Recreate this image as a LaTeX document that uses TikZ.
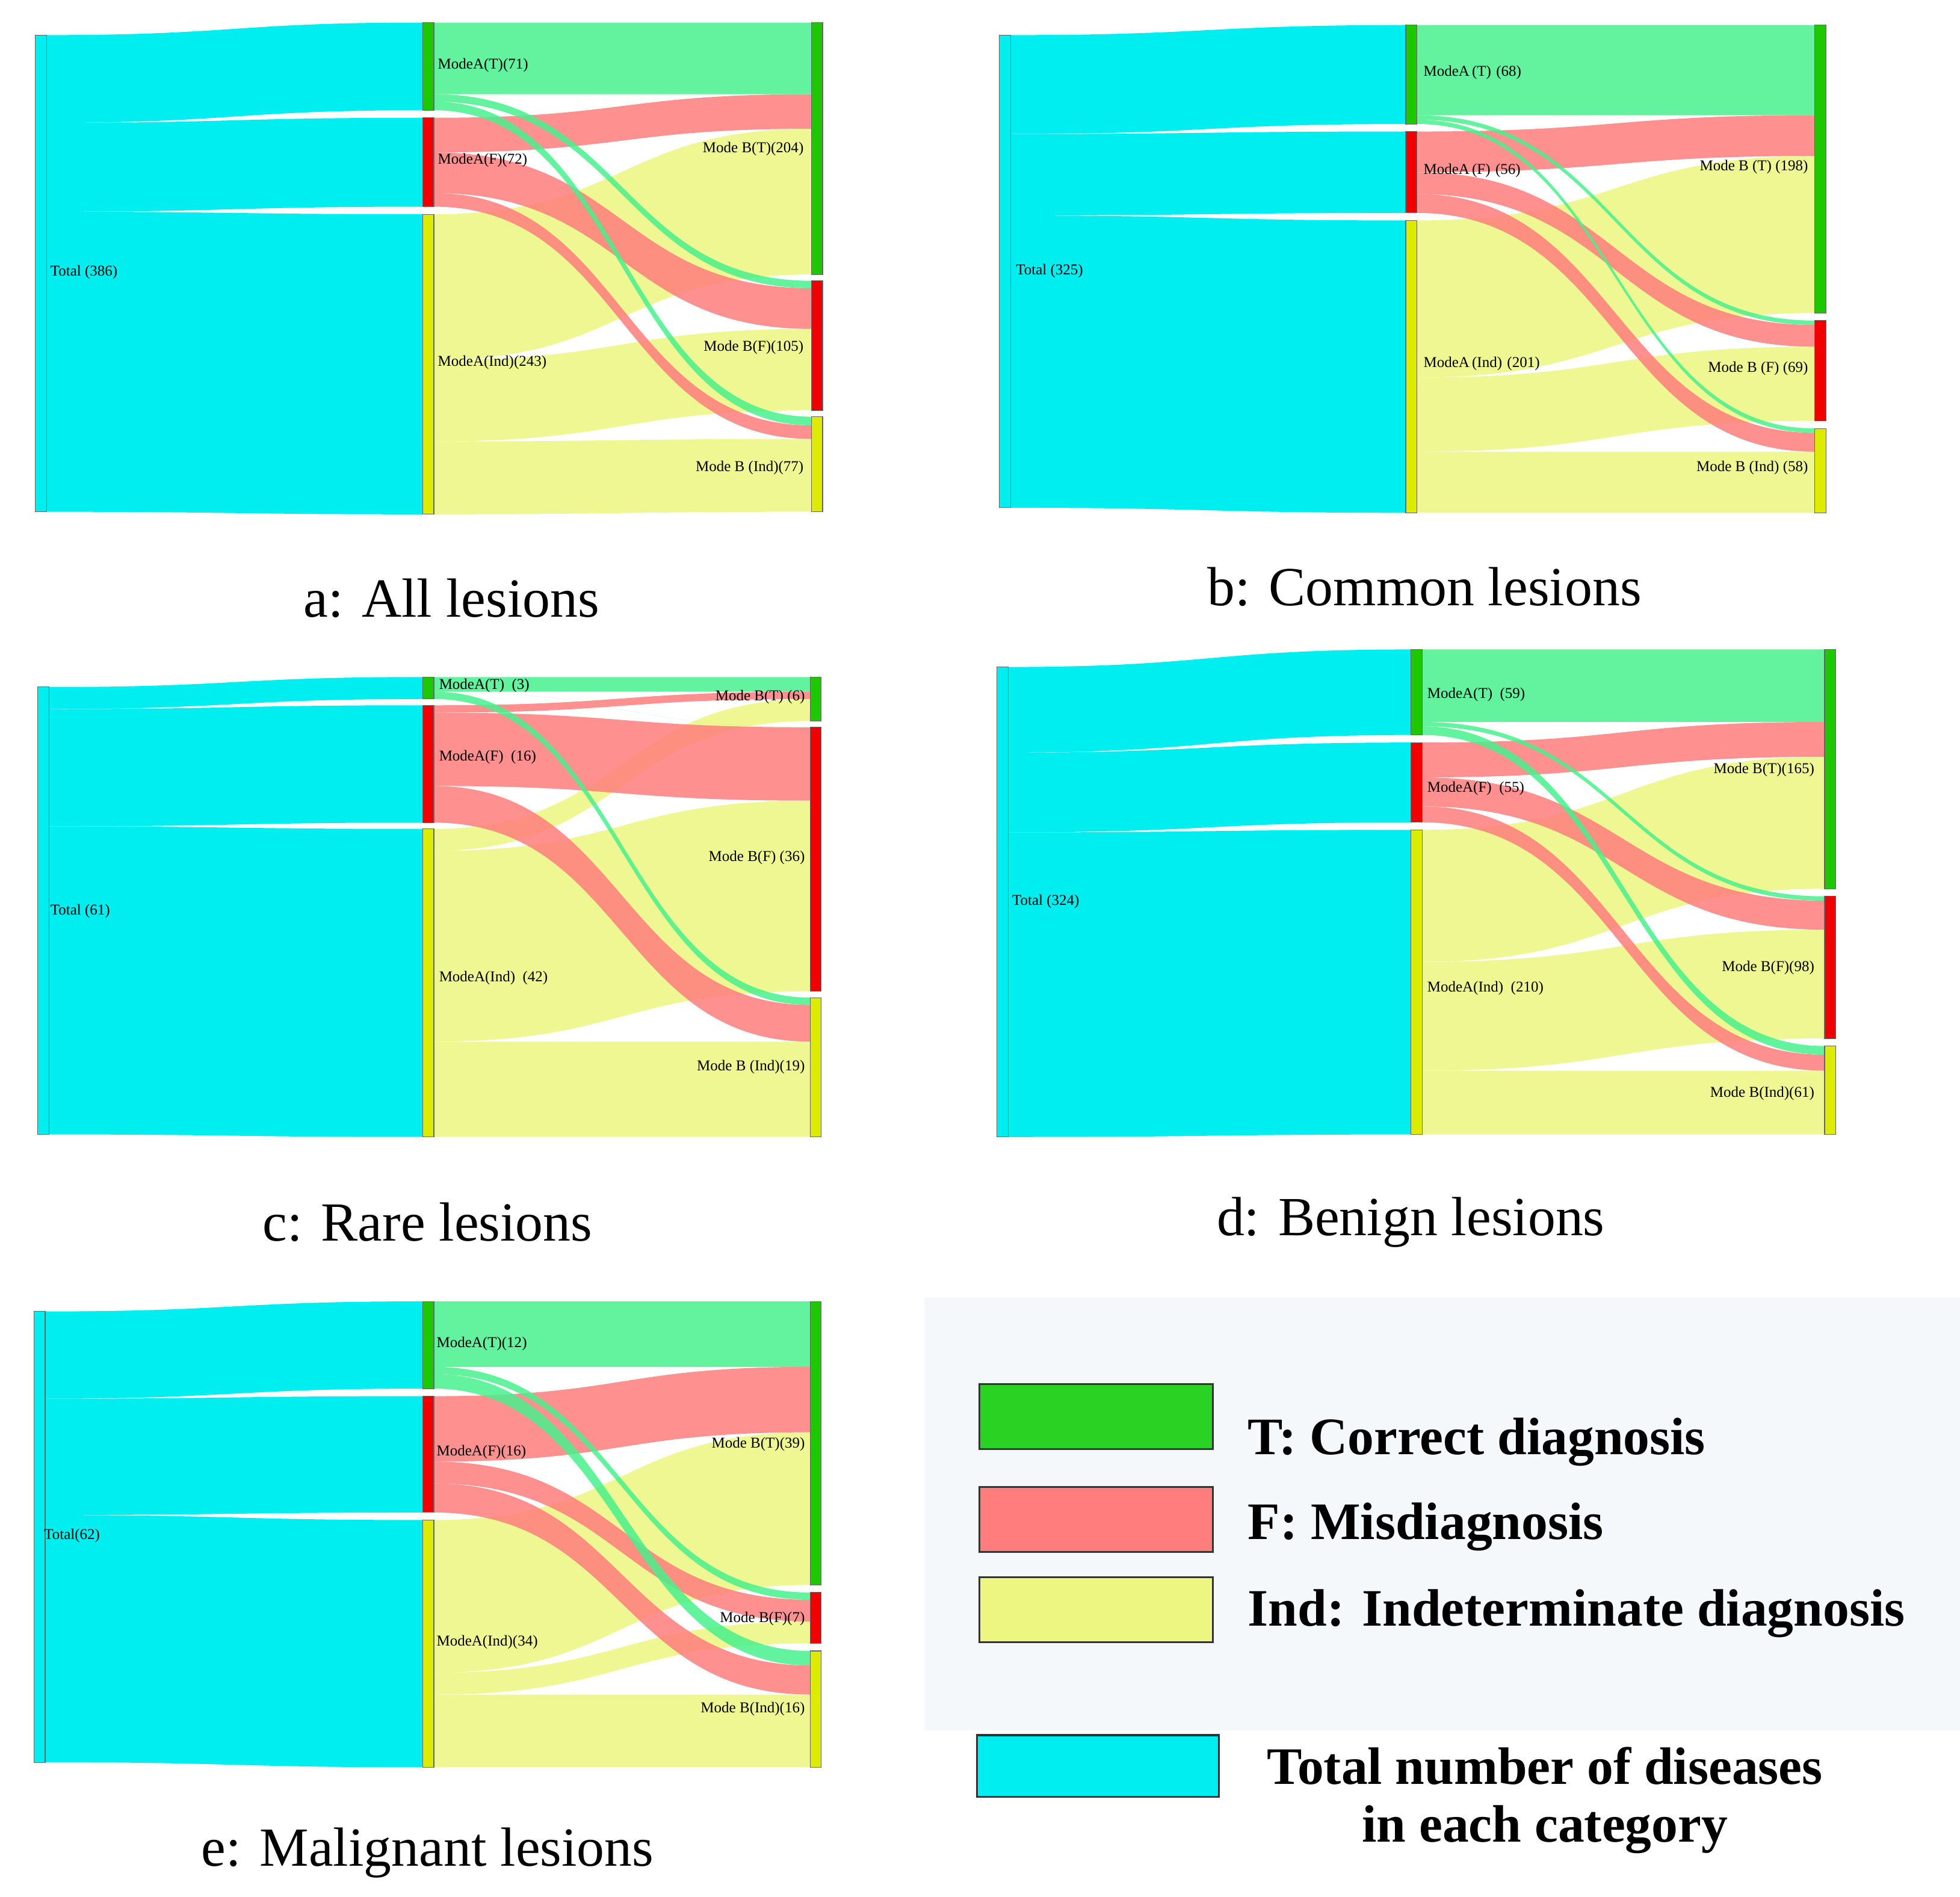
\documentclass[tikz,border=0pt]{standalone}
\usepackage{fontspec}
\setmainfont{Liberation Serif}
\definecolor{cyanT}{RGB}{0,238,240}
\definecolor{fT}{RGB}{72,240,140}
\definecolor{fF}{RGB}{255,125,125}
\definecolor{fI}{RGB}{236,246,128}
\definecolor{bT}{RGB}{30,200,0}
\definecolor{bF}{RGB}{240,0,0}
\definecolor{bI}{RGB}{220,235,0}
\definecolor{legbg}{RGB}{244,248,250}
\tikzset{
 lab/.style={font=\fontsize{12}{12}\selectfont,inner sep=0pt},
 labl/.style={lab,anchor=west},
 labr/.style={lab,anchor=east},
 ttl/.style={font=\fontsize{44}{44}\selectfont,inner sep=0pt},
 leg/.style={font=\fontsize{42}{42}\selectfont\bfseries,inner sep=0pt},
 barbox/.style={draw=black!60,line width=0.5pt},
 flowst/.style={opacity=0.85},
}
\def\bw{9}
\newcommand\band[6]{%
 \pgfmathsetmacro\bdXm{(#1+#3)/2}%
 \pgfmathsetmacro\bdYa{#2}\pgfmathsetmacro\bdYb{#4}%
 \pgfmathsetmacro\bdYc{#2+#5}\pgfmathsetmacro\bdYd{#4+#5}%
 \fill[#6] (#1,\bdYa) .. controls (\bdXm,\bdYa) and (\bdXm,\bdYb) .. (#3,\bdYb) -- (#3,\bdYd) .. controls (\bdXm,\bdYd) and (\bdXm,\bdYc) .. (#1,\bdYc) -- cycle;}
\newcommand\panelgeom[9]{\def\xT{#1}\def\xA{#2}\def\xB{#3}\def\yT{#4}\def\sc{#5}\def\yA{#6}\def\gA{#7}\def\yB{#8}\def\gB{#9}}
\newcommand\panelflows[9]{%
 \pgfmathsetmacro\nA{#1+#2+#3}\pgfmathsetmacro\nB{#4+#5+#6}\pgfmathsetmacro\nC{#7+#8+#9}%
 \pgfmathsetmacro\mA{#1+#4+#7}\pgfmathsetmacro\mB{#2+#5+#8}\pgfmathsetmacro\mC{#3+#6+#9}%
 \pgfmathsetmacro\tA{\yA}\pgfmathsetmacro\tB{\tA+\nA*\sc+\gA}\pgfmathsetmacro\tC{\tB+\nB*\sc+\gA}%
 \pgfmathsetmacro\uA{\yB}\pgfmathsetmacro\uB{\uA+\mA*\sc+\gB}\pgfmathsetmacro\uC{\uB+\mB*\sc+\gB}%
 \pgfmathsetmacro\vA{\yT}\pgfmathsetmacro\vB{\vA+\nA*\sc}\pgfmathsetmacro\vC{\vB+\nB*\sc}\pgfmathsetmacro\vD{\vC+\nC*\sc}%
 \pgfmathsetmacro\xTr{\xT+\bw}\pgfmathsetmacro\xAr{\xA+\bw}\pgfmathsetmacro\xBr{\xB+\bw}%
 \band{\xTr}{\vA}{\xA}{\tA}{\nA*\sc}{cyanT}%
 \band{\xTr}{\vB}{\xA}{\tB}{\nB*\sc}{cyanT}%
 \band{\xTr}{\vC}{\xA}{\tC}{\nC*\sc}{cyanT}%
 \band{\xAr}{\tC}{\xB}{\uA+(#1+#4)*\sc}{#7*\sc}{fI,flowst}%
 \band{\xAr}{\tC+#7*\sc}{\xB}{\uB+(#2+#5)*\sc}{#8*\sc}{fI,flowst}%
 \band{\xAr}{\tC+(#7+#8)*\sc}{\xB}{\uC+(#3+#6)*\sc}{#9*\sc}{fI,flowst}%
 \band{\xAr}{\tB}{\xB}{\uA+#1*\sc}{#4*\sc}{fF,flowst}%
 \band{\xAr}{\tB+#4*\sc}{\xB}{\uB+#2*\sc}{#5*\sc}{fF,flowst}%
 \band{\xAr}{\tB+(#4+#5)*\sc}{\xB}{\uC+#3*\sc}{#6*\sc}{fF,flowst}%
 \band{\xAr}{\tA}{\xB}{\uA}{#1*\sc}{fT,flowst}%
 \band{\xAr}{\tA+#1*\sc}{\xB}{\uB}{#2*\sc}{fT,flowst}%
 \band{\xAr}{\tA+(#1+#2)*\sc}{\xB}{\uC}{#3*\sc}{fT,flowst}%
 \filldraw[barbox,fill=cyanT] (\xT,\vA) rectangle (\xTr,\vD);
 \pgfmathsetmacro\eA{\tA+\nA*\sc}\pgfmathsetmacro\eB{\tB+\nB*\sc}\pgfmathsetmacro\eC{\tC+\nC*\sc}%
 \filldraw[barbox,fill=bT] (\xA,\tA) rectangle (\xAr,\eA);
 \filldraw[barbox,fill=bF] (\xA,\tB) rectangle (\xAr,\eB);
 \filldraw[barbox,fill=bI] (\xA,\tC) rectangle (\xAr,\eC);
 \pgfmathsetmacro\eA{\uA+\mA*\sc}\pgfmathsetmacro\eB{\uB+\mB*\sc}\pgfmathsetmacro\eC{\uC+\mC*\sc}%
 \filldraw[barbox,fill=bT] (\xB,\uA) rectangle (\xBr,\eA);
 \filldraw[barbox,fill=bF] (\xB,\uB) rectangle (\xBr,\eB);
 \filldraw[barbox,fill=bI] (\xB,\uC) rectangle (\xBr,\eC);
}
\begin{document}
\begin{tikzpicture}[x=1pt,y=-1pt]
\useasboundingbox (0,0) rectangle (1563,1513);
\fill[white] (0,0) rectangle (1563,1513);
% panel a
\panelgeom{28}{337}{647}{28}{0.985}{18}{6}{18}{5}
\panelflows{58}{6}{7}{28}{33}{11}{118}{66}{59}
\node[labl] (aTot) at (40,217) {Total (386)};
\node[labl] (aAT) at (349,52) {ModeA(T)(71)};
\node[labl] (aAF) at (349,128) {ModeA(F)(72)};
\node[labl] (aAI) at (349,289) {ModeA(Ind)(243)};
\node[labr] (aBT) at (641,119) {Mode B(T)(204)};
\node[labr] (aBF) at (641,277) {Mode B(F)(105)};
\node[labr] (aBI) at (641,373) {Mode B (Ind)(77)};
\node[ttl] (ta) at (360,477) {a: All lesions};
% panel b
\panelgeom{797}{1121}{1447}{28}{1.16}{20}{6}{20}{6}
\panelflows{62}{3}{3}{28}{15}{13}{108}{51}{42}
\begin{scope}[every node/.append style={font=\fontsize{12}{12}\selectfont\bfseries}]
\node[labl] (bTot) at (810,216) {Total (325)};
\node[labl] (bAT) at (1135,58) {ModeA\,(T)\,\,(68)};
\node[labl] (bAF) at (1135,136) {ModeA\,(F)\,\,(56)};
\node[labl] (bAI) at (1135,290) {ModeA\,(Ind)\,\,(201)};
\node[labr] (bBT) at (1442,133) {Mode B (T) (198)};
\node[labr] (bBF) at (1442,294) {Mode B (F) (69)};
\node[labr] (bBI) at (1442,373) {Mode B (Ind) (58)};
\end{scope}
\node[ttl] (tb) at (1136,468) {b: Common lesions};
% panel c
\panelgeom{30}{337}{646}{548}{5.85}{540}{5}{540}{5}
\panelflows{2}{0}{1}{1}{10}{5}{3}{26}{13}
\node[labl] (cTot) at (40,727) {Total (61)};
\node[labl] (cAT) at (350,547) {ModeA(T)\ \ (3)};
\node[labl] (cAF) at (350,604) {ModeA(F)\ \ (16)};
\node[labl] (cAI) at (350,780) {ModeA(Ind)\ \ (42)};
\node[labr] (cBT) at (642,556) {Mode B(T) (6)};
\node[labr] (cBF) at (642,684) {Mode B(F) (36)};
\node[labr] (cBI) at (642,851) {Mode B (Ind)(19)};
\node[ttl] (tc) at (341,975) {c: Rare lesions};
% panel d
\panelgeom{795}{1125}{1455}{532}{1.157}{518}{6}{518}{6}
\panelflows{50}{3}{6}{24}{20}{11}{91}{75}{44}
\node[labl] (dTot) at (807,719) {Total (324)};
\node[labl] (dAT) at (1138,554) {ModeA(T)\ \ (59)};
\node[labl] (dAF) at (1138,629) {ModeA(F)\ \ (55)};
\node[labl] (dAI) at (1138,788) {ModeA(Ind)\ \ (210)};
\node[labr] (dBT) at (1447,614) {Mode B(T)(165)};
\node[labr] (dBF) at (1447,772) {Mode B(F)(98)};
\node[labr] (dBI) at (1447,872) {Mode B(Ind)(61)};
\node[ttl] (td) at (1125,975) {d: Benign lesions};
% panel e
\panelgeom{27}{337}{646}{1046}{5.8}{1038}{6}{1038}{6}
\panelflows{9}{1}{2}{9}{3}{4}{21}{3}{10}
\node[labl] (eTot) at (35,1225) {Total(62)};
\node[labl] (eAT) at (348,1072) {ModeA(T)(12)};
\node[labl] (eAF) at (348,1158) {ModeA(F)(16)};
\node[labl] (eAI) at (348,1310) {ModeA(Ind)(34)};
\node[labr] (eBT) at (642,1152) {Mode B(T)(39)};
\node[labr] (eBF) at (642,1291) {Mode B(F)(7)};
\node[labr] (eBI) at (642,1363) {Mode B(Ind)(16)};
\node[ttl] (te) at (341,1478) {e: Malignant lesions};
% legend
\fill[legbg] (737,1035) rectangle (1563,1380);
\filldraw[draw=black!80,line width=1.5pt,fill=bT!75!fT] (781,1104) rectangle (967,1156);
\filldraw[draw=black!80,line width=1.5pt,fill=fF] (781,1186) rectangle (967,1238);
\filldraw[draw=black!80,line width=1.5pt,fill=fI] (781,1258) rectangle (967,1310);
\filldraw[draw=black!80,line width=1.5pt,fill=cyanT] (779,1384) rectangle (972,1433);
\node[leg,anchor=west] (lT) at (995,1150) {T: Correct diagnosis};
\node[leg,anchor=west] (lF) at (995,1218) {F: Misdiagnosis};
\node[leg,anchor=west] (lI) at (995,1287) {Ind: Indeterminate diagnosis};
\node[leg,align=center] (lTot) at (1232,1436) {Total number of diseases\\[4pt]in each category};
\end{tikzpicture}
\end{document}
